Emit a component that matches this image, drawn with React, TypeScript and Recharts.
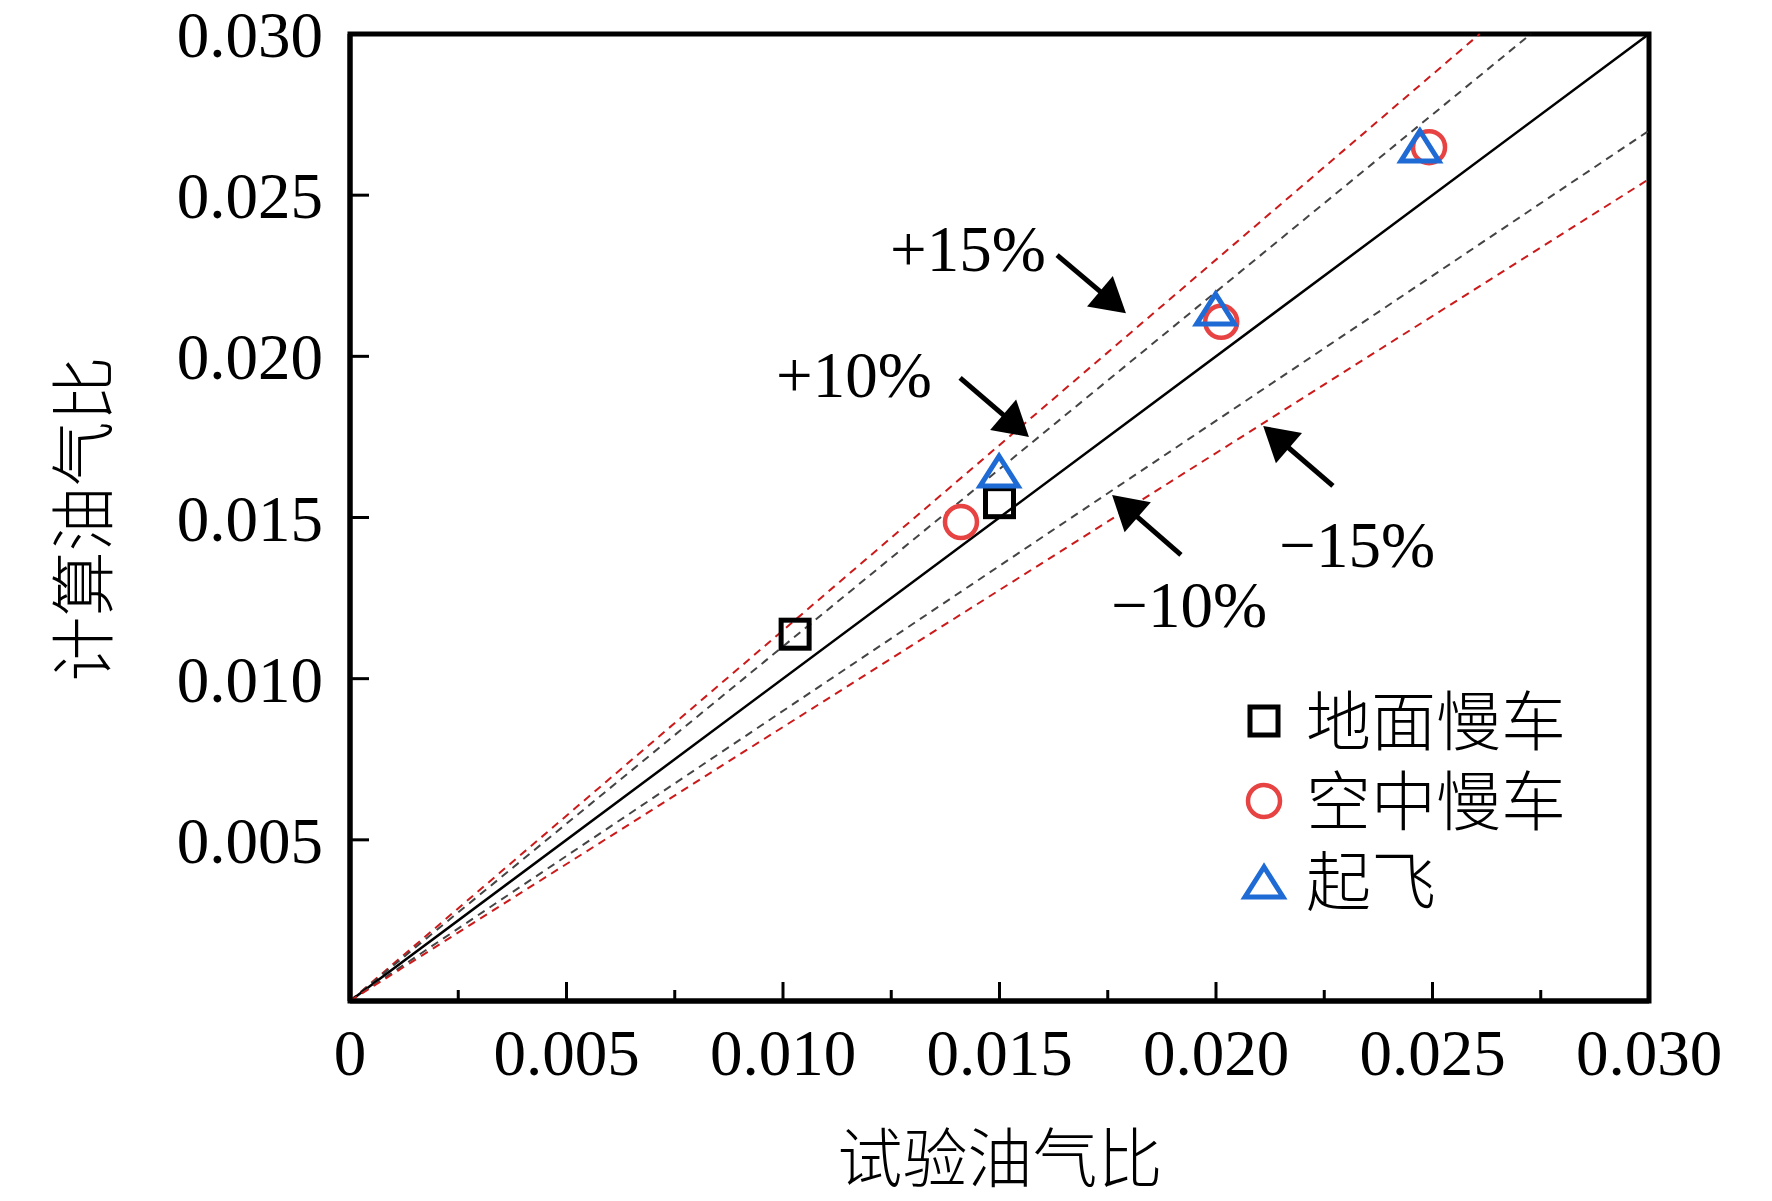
import React from 'react';
import { ScatterChart, Scatter, XAxis, YAxis, ReferenceLine, ReferenceArea } from 'recharts';

// 实验点 (试验油气比, 计算油气比)
const groundIdle = [
  { x: 0.01028, y: 0.01138 },
  { x: 0.0150, y: 0.01546 },
];
const airIdle = [
  { x: 0.01411, y: 0.01486 },
  { x: 0.02012, y: 0.02107 },
  { x: 0.02492, y: 0.02649 },
];
const takeoff = [
  { x: 0.01499, y: 0.01647 },
  { x: 0.01999, y: 0.0215 },
  { x: 0.02471, y: 0.02656 },
];

const xTicks = [0, 0.0025, 0.005, 0.0075, 0.01, 0.0125, 0.015, 0.0175, 0.02, 0.0225, 0.025, 0.0275, 0.03];
const yTicks = [0.005, 0.01, 0.015, 0.02, 0.025, 0.03];

// 误差带端点
const guideLines = [
  { id: 'p15', end: [0.02609, 0.03], color: '#cc1a1a', dash: '8 6', width: 2 },
  { id: 'p10', end: [0.02727, 0.03], color: '#444', dash: '8 6', width: 2 },
  { id: 'zero', end: [0.03, 0.03], color: '#000', dash: undefined, width: 2.5 },
  { id: 'm10', end: [0.03, 0.027], color: '#444', dash: '8 6', width: 2 },
  { id: 'm15', end: [0.03, 0.0255], color: '#cc1a1a', dash: '8 6', width: 2 },
];

const annotations = [
  { label: '+15%', x: 0.01427, y: 0.02265, tail: [0.01633, 0.02314], tip: [0.01792, 0.02134] },
  { label: '+10%', x: 0.01164, y: 0.01874, tail: [0.01409, 0.01933], tip: [0.01568, 0.0175] },
  { label: '\u221215%', x: 0.02326, y: 0.01346, tail: [0.0227, 0.01598], tip: [0.02109, 0.01784] },
  { label: '\u221210%', x: 0.01938, y: 0.0116, tail: [0.01919, 0.01384], tip: [0.0176, 0.0157] },
];

const legendItems = [
  { name: '地面慢车', marker: 'square' },
  { name: '空中慢车', marker: 'circle' },
  { name: '起飞', marker: 'triangle' },
];

const W = 1772;
const H = 1201;
const SERIF = "'Liberation Serif', 'Times New Roman', serif";
const CJK = "'Noto Sans CJK SC', sans-serif";
const FS = 65;
const RED = '#e84343';
const BLUE = '#1f6bd6';

const Marker = ({ kind, cx, cy }: { kind: string; cx: number; cy: number }) => {
  if (kind === 'square') {
    return <rect x={cx - 14} y={cy - 14} width={28} height={28} fill="none" stroke="#000" strokeWidth={5} />;
  }
  if (kind === 'circle') {
    return <circle cx={cx} cy={cy} r={16} fill="none" stroke={RED} strokeWidth={4.5} />;
  }
  return (
    <polygon
      points={`${cx},${cy - 14} ${cx - 19},${cy + 16} ${cx + 19},${cy + 16}`}
      fill="none"
      stroke={BLUE}
      strokeWidth={5}
    />
  );
};

const XTick = (props: any) => {
  const { x, y, payload } = props;
  const v = payload.value;
  const major = Math.abs(v / 0.005 - Math.round(v / 0.005)) < 1e-6;
  return (
    <g>
      <line x1={x} x2={x} y1={y} y2={y - (major ? 19 : 11)} stroke="#000" strokeWidth={3} />
      {major && (
        <text x={x} y={y + 74} textAnchor="middle" fontFamily={SERIF} fontSize={FS} fill="#000">
          {v === 0 ? '0' : v.toFixed(3)}
        </text>
      )}
    </g>
  );
};

const YTick = (props: any) => {
  const { x, y, payload } = props;
  return (
    <g>
      <line x1={x} x2={x + 19} y1={y} y2={y} stroke="#000" strokeWidth={3} />
      <text x={x - 27} y={y + 23} textAnchor="end" fontFamily={SERIF} fontSize={FS} fill="#000">
        {payload.value.toFixed(3)}
      </text>
    </g>
  );
};

const Arrow = (props: any) => {
  const { x1, y1, x2, y2 } = props;
  const dx = x2 - x1;
  const dy = y2 - y1;
  const len = Math.sqrt(dx * dx + dy * dy);
  const ux = dx / len;
  const uy = dy / len;
  const headL = 34;
  const headW = 20;
  const bx = x2 - ux * headL;
  const by = y2 - uy * headL;
  return (
    <g>
      <line x1={x1} y1={y1} x2={bx + ux * 4} y2={by + uy * 4} stroke="#000" strokeWidth={5} />
      <polygon
        points={`${x2},${y2} ${bx - uy * headW},${by + ux * headW} ${bx + uy * headW},${by - ux * headW}`}
        fill="#000"
      />
    </g>
  );
};

const AnnotationText = (props: any) => {
  const { cx, cy, payload } = props;
  return (
    <text x={cx} y={cy} textAnchor="middle" fontFamily={SERIF} fontSize={FS} fill="#000">
      {payload.label}
    </text>
  );
};

export default function App() {
  return (
    <div style={{ position: 'absolute', left: 0, top: 0, width: W, height: H, background: '#fff' }}>
      <ScatterChart width={W} height={H} margin={{ top: 34, right: 123, bottom: 100, left: 250 }}>
        <XAxis
          type="number"
          dataKey="x"
          domain={[0, 0.03]}
          ticks={xTicks}
          interval={0}
          tick={<XTick />}
          tickLine={false}
          tickSize={0}
          tickMargin={0}
          height={100}
          axisLine={{ stroke: '#000', strokeWidth: 5 }}
          allowDataOverflow
          label={{
            content: () => (
              <text x={1000} y={1182} textAnchor="middle" fontFamily={CJK} fontSize={FS} fontWeight={300} fill="#000">
                试验油气比
              </text>
            ),
          }}
        />
        <YAxis
          type="number"
          dataKey="y"
          domain={[0, 0.03]}
          ticks={yTicks}
          interval={0}
          tick={<YTick />}
          tickLine={false}
          tickSize={0}
          tickMargin={0}
          width={100}
          axisLine={{ stroke: '#000', strokeWidth: 5 }}
          allowDataOverflow
          label={{
            content: () => (
              <text
                x={107}
                y={519}
                transform="rotate(-90 107 519)"
                textAnchor="middle"
                fontFamily={CJK}
                fontSize={FS}
                fontWeight={300}
                fill="#000"
              >
                计算油气比
              </text>
            ),
          }}
        />
        {guideLines.map((g) => (
          <ReferenceLine
            key={g.id}
            segment={[
              { x: 0, y: 0 },
              { x: g.end[0], y: g.end[1] },
            ]}
            stroke={g.color}
            strokeWidth={g.width}
            strokeDasharray={g.dash}
            ifOverflow="visible"
          />
        ))}
        {annotations.map((a) => (
          <ReferenceLine
            key={a.label}
            segment={[
              { x: a.tail[0], y: a.tail[1] },
              { x: a.tip[0], y: a.tip[1] },
            ]}
            shape={<Arrow />}
            ifOverflow="visible"
          />
        ))}
        <Scatter
          data={annotations}
          isAnimationActive={false}
          shape={<AnnotationText />}
        />
        <Scatter
          name="地面慢车"
          data={groundIdle}
          isAnimationActive={false}
          shape={(p: any) => <Marker kind="square" cx={p.cx} cy={p.cy} />}
        />
        <Scatter
          name="空中慢车"
          data={airIdle}
          isAnimationActive={false}
          shape={(p: any) => <Marker kind="circle" cx={p.cx} cy={p.cy} />}
        />
        <Scatter
          name="起飞"
          data={takeoff}
          isAnimationActive={false}
          shape={(p: any) => <Marker kind="triangle" cx={p.cx} cy={p.cy} />}
        />
        <ReferenceArea
          x1={0}
          x2={0.03}
          y1={0}
          y2={0.03}
          fill="none"
          fillOpacity={0}
          stroke="#000"
          strokeWidth={5}
          ifOverflow="visible"
        />
      </ScatterChart>
      <svg
        width={420}
        height={260}
        style={{ position: 'absolute', left: 1230, top: 680, overflow: 'visible' }}
      >
        {legendItems.map((item, i) => {
          const cy = 41 + i * 80;
          return (
            <g key={item.name}>
              <Marker kind={item.marker} cx={34} cy={cy} />
              <text x={76} y={cy + 24} fontFamily={CJK} fontSize={FS} fontWeight={300} fill="#000">
                {item.name}
              </text>
            </g>
          );
        })}
      </svg>
    </div>
  );
}
